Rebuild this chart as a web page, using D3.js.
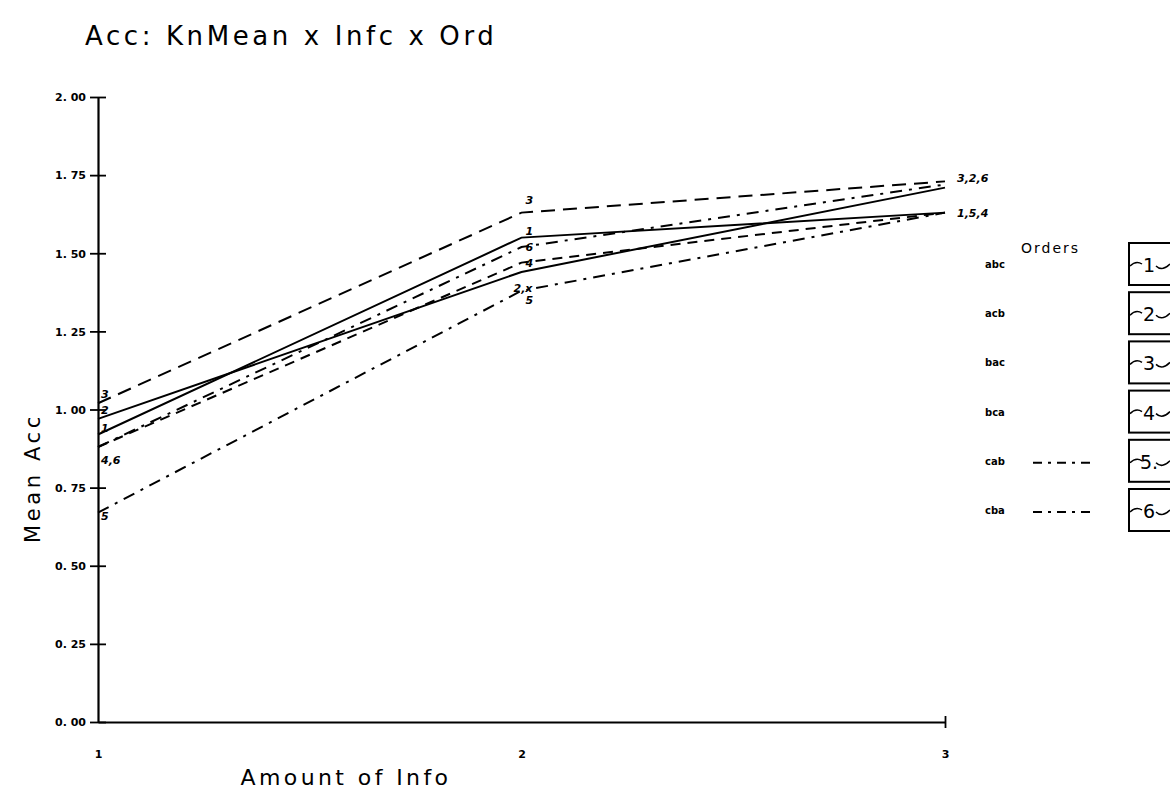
<!DOCTYPE html>
<html>
<head>
<meta charset="utf-8">
<script src="https://cdn.jsdelivr.net/npm/d3@7"></script>
<style>
  body { margin: 0; background: #fff; }
  svg { display: block; }
  text { font-family: "DejaVu Sans", sans-serif; fill: #000; }
</style>
</head>
<body>
<svg id="chart" width="1170" height="800"></svg>
<script>
// data
var orders = ['abc', 'acb', 'bac', 'bca', 'cab', 'cba']
var orderNums = ['1', '2', '3', '4', '5.', '6']
var infoLevels = [1, 2, 3]
var accAbc = [0.92, 1.55, 1.63]
var accAcb = [0.97, 1.44, 1.71]
var accBac = [1.02, 1.63, 1.73]
var accBca = [0.88, 1.47, 1.63]
var accCab = [0.67, 1.38, 1.63]
var accCba = [0.88, 1.52, 1.72]
var yTicks = [0, 0.25, 0.5, 0.75, 1, 1.25, 1.5, 1.75, 2]
// point labels as drawn next to the ends (text, info level, value)
var labelText = ['3', '2', '1', '4,6', '5', '3', '1', '6', '4', '2,x', '5', '3,2,6', '1,5,4']
var labelInfo = [1, 1, 1, 1, 1, 2, 2, 2, 2, 2, 2, 3, 3]
var labelVal = [1.05, 1.00, 0.94, 0.84, 0.66, 1.67, 1.57, 1.52, 1.47, 1.39, 1.35, 1.74, 1.63]

var series = [accAbc, accAcb, accBac, accBca, accCab, accCba]
var dashes = [null, null, '14,8', '10,7', '12,7,3,7', '12,7,3,7']

var svg = d3.select('#chart')
var x = d3.scaleLinear().domain([1, 3]).range([98, 945])
var y = d3.scaleLinear().domain([0, 2]).range([722, 97])

// title
svg.append('text').attr('x', 85).attr('y', 45)
	.attr('font-size', '26px').attr('letter-spacing', '3.6px')
	.text('Acc: KnMean x Infc x Ord')

// y axis
var yAxis = d3.axisLeft(y).tickValues(yTicks).tickSize(0).tickPadding(12)
	.tickFormat(function (d) { return d3.format('.2f')(d).replace('.', '. ') })
var yg = svg.append('g').attr('transform', 'translate(98,0)').call(yAxis)
yg.select('.domain').attr('stroke', '#000').attr('stroke-width', 2.2)
yg.selectAll('text').attr('font-size', '11px').attr('font-weight', 'bold')
	.style('font-family', '"DejaVu Sans", sans-serif').attr('dy', '0.35em')
yg.selectAll('.tick').append('line').attr('x1', -8).attr('x2', 8).attr('stroke', '#000').attr('stroke-width', 1.8)

// x axis
var xAxis = d3.axisBottom(x).tickValues(infoLevels).tickSize(0).tickPadding(28).tickFormat(d3.format('d'))
var xg = svg.append('g').attr('transform', 'translate(0,722)').call(xAxis)
xg.select('.domain').attr('stroke', '#000').attr('stroke-width', 2)
xg.selectAll('text').attr('font-size', '11px').attr('font-weight', 'bold')
	.style('font-family', '"DejaVu Sans", sans-serif')
xg.selectAll('.tick').filter(function (d) { return d == 3 })
	.append('line').attr('y1', -6).attr('y2', 6).attr('stroke', '#000').attr('stroke-width', 1.8)

// axis titles
svg.append('text').attr('x', 346).attr('y', 785).attr('text-anchor', 'middle')
	.attr('font-size', '22px').attr('letter-spacing', '3.4px')
	.text('Amount of Info')
svg.append('text').attr('transform', 'translate(40,478) rotate(-90)').attr('text-anchor', 'middle')
	.attr('font-size', '21px').attr('letter-spacing', '3.6px')
	.text('Mean Acc')

// lines
var line = d3.line()
	.x(function (d, i) { return x(infoLevels[i]) })
	.y(function (d) { return y(d) })
svg.selectAll('.ordLine')
	.data(series)
	.join('path')
	.attr('class', 'ordLine')
	.attr('fill', 'none')
	.attr('stroke', '#000')
	.attr('stroke-width', 2)
	.attr('stroke-dasharray', function (d, i) { return dashes[i] })
	.attr('d', line)

// point labels
svg.selectAll('.ptLabel')
	.data(labelText)
	.join('text')
	.attr('class', 'ptLabel')
	.attr('x', function (d, i) {
		if (labelInfo[i] == 3) return x(3) + 12
		if (labelInfo[i] == 2) return x(2) + (d == '2,x' ? -8 : 4)
		return x(1) + 3
	})
	.attr('y', function (d, i) { return y(labelVal[i]) + 4 })
	.attr('font-size', '11px').attr('font-weight', 'bold').attr('font-style', 'italic')
	.text(function (d) { return d })

// legend
svg.append('text').attr('x', 1021).attr('y', 253)
	.attr('font-size', '14px').attr('letter-spacing', '2px')
	.text('Orders')
var leg = svg.selectAll('.leg')
	.data(orders)
	.join('g')
	.attr('class', 'leg')
	.attr('transform', function (d, i) { return 'translate(0,' + (264 + 49.2 * i) + ')' })
leg.append('text').attr('x', 985).attr('y', 4)
	.attr('font-size', '10px').attr('font-weight', 'bold')
	.text(function (d) { return d })
leg.filter(function (d, i) { return i >= 4 })
	.append('line').attr('x1', 1033).attr('x2', 1090).attr('y1', 2).attr('y2', 2)
	.attr('stroke', '#000').attr('stroke-width', 2).attr('stroke-dasharray', '9,6,3,6')
leg.append('rect').attr('x', 1129).attr('y', -21).attr('width', 60).attr('height', 42)
	.attr('fill', 'none').attr('stroke', '#000').attr('stroke-width', 2)
leg.append('path')
	.attr('d', 'M1130,2 q6,-6 12,-2 M1156,2 q6,6 14,-2')
	.attr('fill', 'none').attr('stroke', '#000').attr('stroke-width', 1.5)
leg.append('text').attr('x', 1149).attr('y', 8).attr('text-anchor', 'middle')
	.attr('font-size', '19px')
	.text(function (d, i) { return orderNums[i] })
</script>
</body>
</html>
